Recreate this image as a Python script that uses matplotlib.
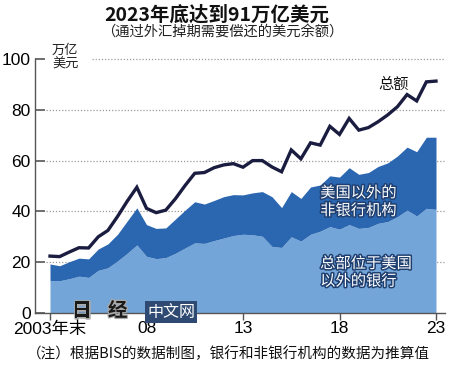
import matplotlib
matplotlib.use("Agg")
import matplotlib.pyplot as plt
import matplotlib.patheffects as pe
from matplotlib import font_manager
import numpy as np

# ---- data (semiannual, end-2003 .. end-2023, trillion USD) ----
period_labels = ["2003H2"] + [f"{y}H{h}" for y in range(2004, 2024) for h in (1, 2)]
total = [22.4, 22.2, 24.0, 25.7, 25.6, 30.0, 32.5, 38.0, 44.0, 49.5,
         41.2, 39.5, 40.5, 45.0, 50.2, 55.0, 55.3, 57.2, 58.3, 58.8,
         57.4, 60.0, 60.0, 57.5, 55.6, 64.2, 60.7, 67.0, 66.1, 73.5,
         70.3, 76.6, 72.0, 73.0, 75.3, 78.0, 81.2, 86.0, 83.5, 91.0, 91.3]
banks_outside_us = [12.7, 12.7, 13.5, 14.5, 14.0, 16.8, 17.8, 20.5, 23.5, 26.8,
                    22.3, 21.4, 21.8, 23.5, 25.6, 27.6, 27.4, 28.5, 29.5, 30.5,
                    31.0, 30.8, 30.2, 26.2, 25.8, 30.0, 28.3, 31.0, 32.2, 34.0,
                    33.0, 34.8, 33.3, 33.7, 35.3, 36.0, 37.9, 40.5, 38.2, 41.2, 40.8]
nonbanks_outside_us = [6.6, 5.9, 6.7, 7.1, 7.3, 8.4, 9.4, 10.5, 12.7, 14.6,
                       12.5, 11.9, 11.7, 13.5, 14.9, 16.2, 15.5, 15.8, 16.3, 16.1,
                       15.5, 16.5, 17.6, 19.6, 15.7, 17.8, 16.8, 18.6, 18.2, 20.0,
                       20.5, 22.4, 21.3, 21.6, 22.4, 23.1, 23.9, 24.8, 25.3, 28.0, 28.4]
tick_years = [2003, 2008, 2013, 2018, 2023]
tick_labels = ["2003年末", "08", "13", "18", "23"]
y_ticks = [0, 20, 40, 60, 80, 100]

years = np.array([2003 + 0.5 * i for i in range(len(total))])
banks = np.array(banks_outside_us)
stack_top = banks + np.array(nonbanks_outside_us)

# ---- fonts ----
avail = {f.name for f in font_manager.fontManager.ttflist}
cjk = "Noto Sans CJK SC"
narrow = "Liberation Sans Narrow" if "Liberation Sans Narrow" in avail else "Liberation Sans"
plt.rcParams["font.family"] = [cjk, "DejaVu Sans"]

LIGHT = "#74a5d8"
DARK = "#2b67b1"
LINE = "#1b1d40"

fig = plt.figure(figsize=(4.5, 3.67), dpi=100)
ax = fig.add_axes([35 / 450, 54 / 367, 410 / 450, 254 / 367])

ax.fill_between(years, 0, banks, color=LIGHT, lw=0, zorder=2)
ax.fill_between(years, banks, stack_top, color=DARK, lw=0, zorder=2)
ax.plot(years, total, color=LINE, lw=2.4, zorder=3, solid_joinstyle="miter")

ax.set_xlim(2003 - 15 / 19.3, 2003 + 395 / 19.3)
ax.set_ylim(0, 100)

# gridlines (dotted)
for yv in [20, 40, 60, 80]:
    ax.axhline(yv, xmin=11 / 410, xmax=1.0, color="#9a9a9a", lw=0.9,
               ls=(0, (1, 1.5)), zorder=1)
ax.axhline(100, xmin=57 / 410, xmax=1.0, color="#9a9a9a", lw=0.9,
           ls=(0, (1, 1.5)), zorder=1, clip_on=False)

for s in ["top", "right"]:
    ax.spines[s].set_visible(False)
for s in ["left", "bottom"]:
    ax.spines[s].set_color("#555555")
    ax.spines[s].set_linewidth(1.0)

ax.set_yticks(y_ticks)
ax.set_yticklabels([str(v) for v in y_ticks], family=narrow, fontsize=12.5)
ax.tick_params(axis="y", direction="in", length=7, width=1.2, color="#555555",
               pad=3)
ax.set_xticks(tick_years)
ax.set_xticklabels(tick_labels, fontsize=12.5)
for lbl in ax.get_xticklabels():
    lbl.set_family([narrow, cjk])
ax.tick_params(axis="x", direction="out", length=5, width=1.0, color="#555555",
               pad=1)

# titles
fig.text(0.482, 1 - 15 / 367, "2023年底达到91万亿美元", ha="center", va="center",
         fontsize=14, fontweight="bold", color="#111111")
fig.text(0.493, 1 - 32 / 367, "（通过外汇掉期需要偿还的美元余额）", ha="center",
         va="center", fontsize=10.3, color="#222222")
fig.text(52 / 450, 1 - 57 / 367, "万亿\n美元", ha="left", va="center",
         fontsize=9.5, color="#222222", linespacing=1.05)

# annotations
ax.text(2020.0, 90, "总额", fontsize=11, color="#111111", ha="left", va="center")
outline = [pe.withStroke(linewidth=2.2, foreground="#1f3f70")]
ax.text(2017.0, 43.8, "美国以外的\n非银行机构", fontsize=11, color="white",
        ha="left", va="center", linespacing=1.05, path_effects=outline, zorder=5)
ax.text(2017.0, 16, "总部位于美国\n以外的银行", fontsize=11, color="white",
        ha="left", va="center", linespacing=1.05, path_effects=outline, zorder=5)

# watermark
wm_fx = [pe.withStroke(linewidth=1.8, foreground="#aaaaaa")]
fig.text(72 / 450, 1 - 311 / 367, "日", fontsize=14, fontweight="heavy",
         color="#1a1a1a", ha="left", va="center", zorder=10, path_effects=wm_fx)
fig.text(108 / 450, 1 - 311 / 367, "经", fontsize=14, fontweight="heavy",
         color="#1a1a1a", ha="left", va="center", zorder=10, path_effects=wm_fx)
fig.text(147 / 450, 1 - 312 / 367, "中文网", fontsize=11.5, color="white",
         ha="left", va="center", zorder=10,
         bbox=dict(boxstyle="square,pad=0.15", fc="#2e4a72", ec="none"))

# note
fig.text(0.508, 1 - 354 / 367, "（注）根据BIS的数据制图，银行和非银行机构的数据为推算值",
         ha="center", va="center", fontsize=10.5, color="#111111")

fig.savefig("out.png", dpi=100, facecolor="white")
